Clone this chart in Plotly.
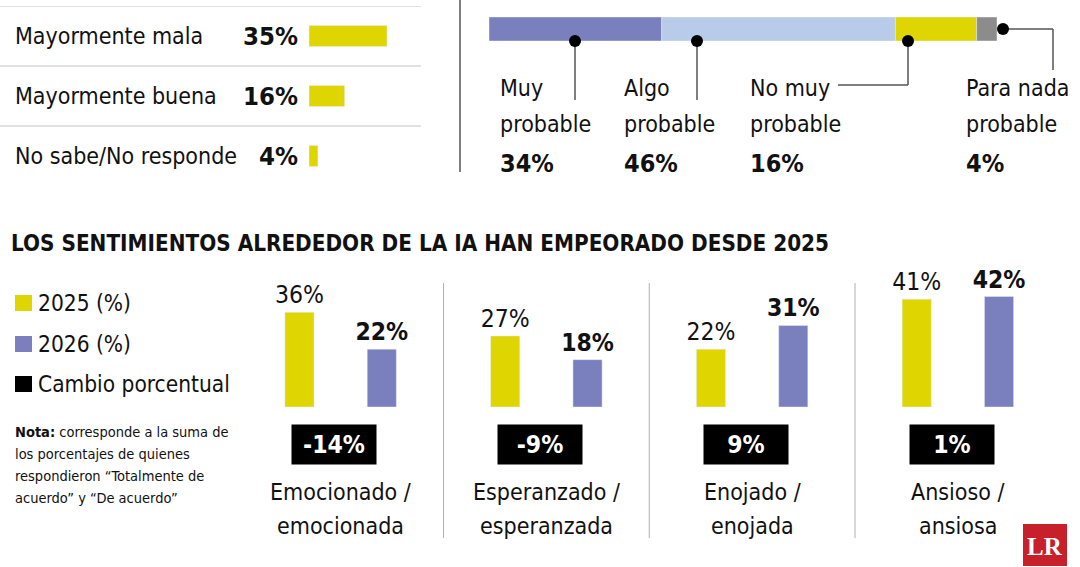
import plotly.graph_objects as go

W, H = 1080, 567
FONT = "DejaVu Sans Condensed, Liberation Sans Narrow, sans-serif"
YELLOW = "#dfd500"
PURPLE = "#7a7fbd"
LIGHT = "#b8cbe9"
GRAY = "#8c8c8c"
DARK = "#111111"

# ---------------- data ----------------
opinion_labels = ["Mayormente mala", "Mayormente buena", "No sabe/No responde"]
opinion_values = [35, 16, 4]

prob_labels = ["Muy<br>probable", "Algo<br>probable", "No muy<br>probable", "Para nada<br>probable"]
prob_values = [34, 46, 16, 4]
prob_colors = [PURPLE, LIGHT, YELLOW, GRAY]

title_text = "LOS SENTIMIENTOS ALREDEDOR DE LA IA HAN EMPEORADO DESDE 2025"
feelings = ["Emocionado /<br>emocionada", "Esperanzado /<br>esperanzada",
            "Enojado /<br>enojada", "Ansioso /<br>ansiosa"]
v2025 = [36, 27, 22, 41]
v2026 = [22, 18, 31, 42]
change = [-14, -9, 9, 1]
legend_labels = ["2025 (%)", "2026 (%)", "Cambio porcentual"]
nota_lines = ["<b>Nota:</b> corresponde a la suma de",
              "los porcentajes de quienes",
              "respondieron “Totalmente de",
              "acuerdo” y “De acuerdo”"]


def px(x):
    return x / W


def py(y):
    return 1 - y / H


fig = go.Figure()

# ---- top-left horizontal bars ----
fig.add_trace(go.Bar(x=opinion_values, y=opinion_labels, orientation="h",
                     marker_color=YELLOW, width=0.35, xaxis="x", yaxis="y",
                     showlegend=False, hoverinfo="skip"))

# ---- top-right stacked bar ----
base = 0
for lab, v, c in zip(prob_labels, prob_values, prob_colors):
    fig.add_trace(go.Bar(x=[v], y=[0], base=[base], orientation="h", marker_color=c,
                         width=1, offsetgroup="s", xaxis="x2", yaxis="y2",
                         showlegend=False, hoverinfo="skip", name=lab.replace("<br>", " ")))
    base += v

# ---- bottom grouped bars ----
fig.add_trace(go.Bar(x=feelings, y=v2025, name=legend_labels[0], marker_color=YELLOW,
                     xaxis="x3", yaxis="y3", text=[f"{v}%" for v in v2025],
                     textposition="outside", constraintext="none", cliponaxis=False,
                     textfont=dict(family=FONT, size=24.5, color=DARK),
                     showlegend=False, hoverinfo="skip"))
fig.add_trace(go.Bar(x=feelings, y=v2026, name=legend_labels[1], marker_color=PURPLE,
                     xaxis="x3", yaxis="y3", text=[f"{v}%" for v in v2026],
                     textposition="outside", constraintext="none", cliponaxis=False,
                     textfont=dict(family=FONT, size=24.5, color=DARK, weight="bold"),
                     showlegend=False, hoverinfo="skip"))

shapes = []
ann = []

# top-left labels and separators
for i, (lab, v) in enumerate(zip(opinion_labels, opinion_values)):
    ann.append(dict(x=px(13), xref="paper", y=lab, yref="y", text=lab, showarrow=False,
                    xanchor="left", yanchor="middle", font=dict(family=FONT, size=23, color=DARK)))
    ann.append(dict(x=px(300), xref="paper", y=lab, yref="y", text=f"{v}%", showarrow=False,
                    xanchor="right", yanchor="middle",
                    font=dict(family=FONT, size=25.5, color=DARK, weight="bold")))
for s in [-0.5, 0.5, 1.5]:
    shapes.append(dict(type="line", xref="paper", yref="y", x0=0, x1=px(421), y0=s, y1=s,
                       line=dict(color="#c4c4c4", width=1)))

# top divider
shapes.append(dict(type="line", xref="paper", yref="paper", x0=px(460), x1=px(460),
                   y0=py(0), y1=py(172), line=dict(color="#555555", width=1.5)))

# top-right labels
label_x = [498, 622, 748, 964]
for lab, v, lx in zip(prob_labels, prob_values, label_x):
    l1, l2 = lab.split("<br>")
    ann.append(dict(x=px(lx), xref="paper", y=py(88), yref="paper", text=l1, showarrow=False,
                    xanchor="left", yanchor="middle", font=dict(family=FONT, size=23, color=DARK)))
    ann.append(dict(x=px(lx), xref="paper", y=py(124), yref="paper", text=l2, showarrow=False,
                    xanchor="left", yanchor="middle", font=dict(family=FONT, size=23, color=DARK)))
    ann.append(dict(x=px(lx), xref="paper", y=py(163), yref="paper", text=f"{v}%", showarrow=False,
                    xanchor="left", yanchor="middle",
                    font=dict(family=FONT, size=25, color=DARK, weight="bold")))

# leader lines and dots
LEAD = "#555555"
leaders = [[(575, 41), (575, 100)],
           [(697, 41), (697, 100)],
           [(908, 41), (908, 85), (838, 85)],
           [(1003, 29), (1053, 29), (1053, 70)]]
for pts in leaders:
    for (xa, ya), (xb, yb) in zip(pts[:-1], pts[1:]):
        shapes.append(dict(type="line", xref="paper", yref="paper", x0=px(xa), x1=px(xb),
                           y0=py(ya), y1=py(yb), line=dict(color=LEAD, width=1.5)))
    cx, cy = pts[0]
    r = 6
    shapes.append(dict(type="circle", xref="paper", yref="paper", x0=px(cx - r), x1=px(cx + r),
                       y0=py(cy + r), y1=py(cy - r), fillcolor="black", line=dict(width=0)))

# title
ann.append(dict(x=px(9), xref="paper", y=py(243), yref="paper", text=f"<b>{title_text}</b>",
                showarrow=False, xanchor="left", yanchor="middle",
                font=dict(family=FONT, size=22.3, color=DARK)))

# legend
leg_colors = [YELLOW, PURPLE, "black"]
leg_y = [303, 344, 384]
for lab, c, ly in zip(legend_labels, leg_colors, leg_y):
    shapes.append(dict(type="rect", xref="paper", yref="paper", x0=px(15), x1=px(32),
                       y0=py(ly + 8), y1=py(ly - 8), fillcolor=c, line=dict(width=0)))
    ann.append(dict(x=px(36), xref="paper", y=py(ly), yref="paper", text=lab, showarrow=False,
                    xanchor="left", yanchor="middle", font=dict(family=FONT, size=22.5, color=DARK)))

for k, line in enumerate(nota_lines):
    ann.append(dict(x=px(13), xref="paper", y=py(432 + 22 * k), yref="paper", text=line,
                    showarrow=False, xanchor="left", yanchor="middle",
                    font=dict(family=FONT, size=14.5, color=DARK)))

# bottom: change boxes, category labels, dividers
for i, (lab, c) in enumerate(zip(feelings, change)):
    ann.append(dict(x=i - 0.03, xref="x3", y=py(444.5), yref="paper", text=f"<b>{c}%</b>",
                    showarrow=False, xanchor="center", yanchor="middle", bgcolor="black",
                    width=84, height=39, borderpad=0,
                    font=dict(family=FONT, size=24.5, color="white")))
    l1, l2 = lab.split("<br>")
    ann.append(dict(x=i, xref="x3", y=py(492), yref="paper", text=l1, showarrow=False,
                    xanchor="center", yanchor="middle", font=dict(family=FONT, size=23, color=DARK)))
    ann.append(dict(x=i, xref="x3", y=py(526), yref="paper", text=l2, showarrow=False,
                    xanchor="center", yanchor="middle", font=dict(family=FONT, size=23, color=DARK)))
for d in [0.5, 1.5, 2.5]:
    shapes.append(dict(type="line", xref="x3", yref="paper", x0=d, x1=d, y0=py(283), y1=py(538),
                       line=dict(color="#b0b0b0", width=1)))

# LR logo
shapes.append(dict(type="rect", xref="paper", yref="paper", x0=px(1023), x1=px(1067),
                   y0=py(566), y1=py(524), fillcolor="#c8202a", line=dict(width=0)))
ann.append(dict(x=px(1045), xref="paper", y=py(546), yref="paper", text="<b>LR</b>",
                showarrow=False, xanchor="center", yanchor="middle",
                font=dict(family="Liberation Serif, DejaVu Serif, serif", size=25, color="white")))

fig.update_layout(
    width=W, height=H,
    margin=dict(l=0, r=0, t=0, b=0),
    paper_bgcolor="white", plot_bgcolor="rgba(0,0,0,0)",
    barmode="group", bargap=0.2, bargroupgap=0.646,
    xaxis=dict(domain=[px(309), px(309 + 222.9)], range=[0, 100], visible=False, fixedrange=True),
    yaxis=dict(domain=[py(186), py(6)], type="category", categoryarray=opinion_labels,
               range=[2.5, -0.5], autorange=False, visible=False),
    xaxis2=dict(domain=[px(489), px(997)], range=[0, 100], visible=False),
    yaxis2=dict(domain=[py(41), py(17)], range=[-0.5, 0.5], visible=False),
    xaxis3=dict(domain=[px(237.75), px(1060.75)], type="category", categoryarray=feelings,
                range=[-0.5, 3.5], visible=False),
    yaxis3=dict(domain=[py(407), py(250)], range=[0, 157 / 2.63], visible=False),
    shapes=shapes, annotations=ann,
    font=dict(family=FONT),
)

fig.write_html("out.html")
